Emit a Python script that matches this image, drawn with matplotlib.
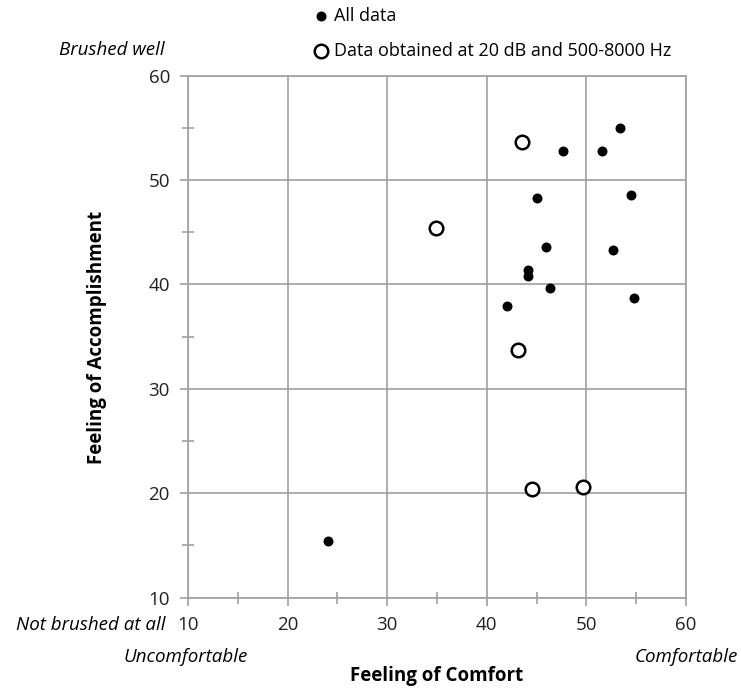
import matplotlib
matplotlib.use("Agg")
import matplotlib.pyplot as plt
from matplotlib.ticker import MultipleLocator

plt.rcParams['font.family'] = ['Open Sans', 'DejaVu Sans']

# all data (filled dots)
all_x = [24.1, 47.6, 51.6, 53.4, 45.0, 54.5, 45.9, 52.7, 44.1, 44.1, 46.3, 42.0, 54.8]
all_y = [15.4, 52.8, 52.8, 55.0, 48.3, 48.6, 43.6, 43.3, 41.4, 40.8, 39.6, 37.9, 38.7]

# data obtained at 20 dB and 500-8000 Hz (open circles)
sub_x = [43.5, 34.9, 43.1, 44.5, 49.7]
sub_y = [53.6, 45.4, 33.7, 20.4, 20.6]

ticks = [10, 20, 30, 40, 50, 60]
grey = '#a0a0a0'
fs = 13.5

fig = plt.figure(figsize=(7.41, 6.89), dpi=100)
ax = fig.add_axes([0.2537, 0.1328, 0.6721, 0.7576])

ax.scatter(all_x, all_y, s=38, color='black', zorder=3, label='All data')
ax.scatter(sub_x, sub_y, s=95, facecolors='white', edgecolors='black',
           linewidths=1.8, zorder=3, label='Data obtained at 20 dB and 500-8000 Hz')

ax.set_xlim(10, 60)
ax.set_ylim(10, 60)
ax.set_xticks(ticks)
ax.set_yticks(ticks)
ax.xaxis.set_minor_locator(MultipleLocator(5))
ax.yaxis.set_minor_locator(MultipleLocator(5))
ax.grid(True, which='major', color=grey, linewidth=1.2)
ax.set_axisbelow(True)

for s in ax.spines.values():
    s.set_color(grey)
    s.set_linewidth(1.2)
ax.tick_params(which='major', direction='out', length=6, color=grey, width=1.2,
               labelsize=fs, labelcolor='#222222', pad=7)
ax.tick_params(which='minor', direction='inout', length=8, color=grey, width=1.2)

fig.text(437 / 741, 1 - 676 / 689, 'Feeling of Comfort', fontsize=fs,
         fontweight='bold', ha='center', va='center')
fig.text(97 / 741, 1 - 337 / 689, 'Feeling of Accomplishment', fontsize=fs,
         fontweight='bold', ha='center', va='center', rotation=90)

fig.text(165 / 741, 1 - 50 / 689, 'Brushed well', fontsize=fs, style='italic',
         ha='right', va='center')
fig.text(165 / 741, 1 - 625 / 689, 'Not brushed at all', fontsize=fs, style='italic',
         ha='right', va='center')
fig.text(186 / 741, 1 - 657 / 689, 'Uncomfortable', fontsize=fs, style='italic',
         ha='center', va='center')
fig.text(738 / 741, 1 - 657 / 689, 'Comfortable', fontsize=fs, style='italic',
         ha='right', va='center')

fig.legend(loc='upper left', bbox_to_anchor=(301 / 741, 1.006), frameon=False,
           fontsize=13, labelspacing=0.95, handlelength=1.0, handletextpad=0.25,
           borderaxespad=0.2)

fig.savefig('out.png', dpi=100)
